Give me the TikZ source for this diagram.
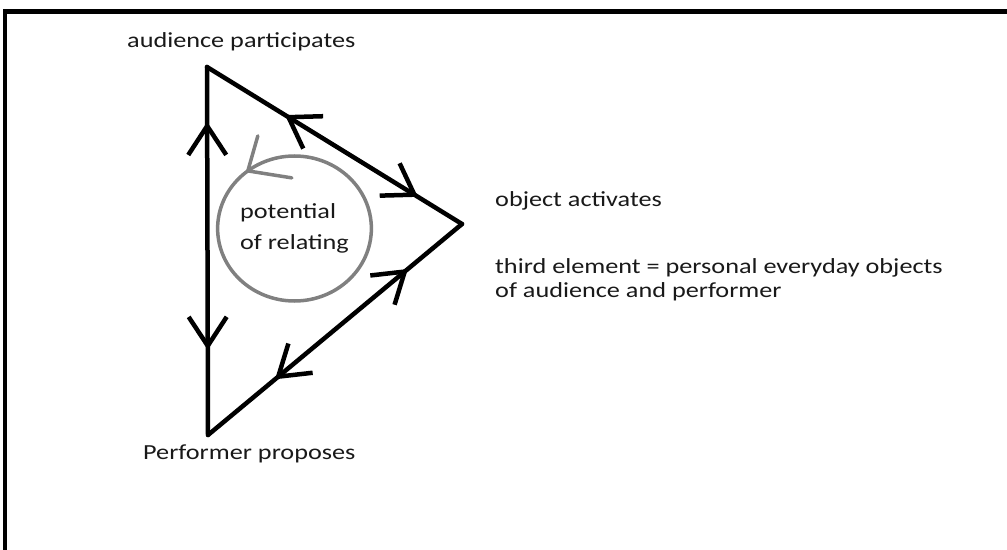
\documentclass[tikz,border=0pt]{standalone}
\usepackage{fontspec}
\setmainfont{Carlito}[FakeStretch=1.22]
\usetikzlibrary{arrows.meta,decorations.markings,shapes.geometric,calc}

\tikzset{
  handtip/.tip={Straight Barb[length=29bp,width=38bp]},
  edge/.style={line width=4.5bp, line cap=round, black, postaction={decorate}},
  label/.style={inner sep=0pt, anchor=base west, font=\fontsize{21.5bp}{24bp}\selectfont, text=black!90},
  relring/.style={ellipse, draw=gray, line width=3.5bp, minimum width=151bp, minimum height=145bp,
    inner sep=0pt, outer sep=0pt, align=left, font=\fontsize{21.5bp}{31bp}\selectfont, text=black!90},
  frame/.style={line width=4.5bp, black},
}

\begin{document}
\begin{tikzpicture}[x=1bp,y=-1bp]
  \useasboundingbox (0,0) rectangle (1007,550);

  % open frame: left side and top
  \draw[frame] (5,550) -- (5,11.5) -- (1007,11.5);

  % corners of the triangle
  \coordinate (aud) at (207,67);
  \coordinate (perf) at (208,435);
  \coordinate (obj) at (462,224);

  % two-way links along the triangle's sides
  \draw[edge, decoration={markings,
      mark=at position 0.149 with {\arrowreversed{handtip}},
      mark=at position 0.769 with {\arrow{handtip}}}] (aud) -- (perf);
  \draw[edge, decoration={markings,
      mark=at position 0.306 with {\arrowreversed{handtip}},
      mark=at position 0.827 with {\arrow{handtip}}}] (aud) -- (obj);
  \draw[edge, decoration={markings,
      mark=at position 0.264 with {\arrowreversed{handtip}},
      mark=at position 0.787 with {\arrow{handtip}}}] (perf) -- (obj);

  % circle of relating with its turning arrow
  \node[relring] (rel) at (294.5,228.5) {potential\\of relating};
  \coordinate (turn) at (rel.129);
  \draw[gray, line width=3.5bp, line cap=round, line join=round]
    ($(turn)+(10,-35)$) -- (turn) -- ($(turn)+(44,7)$);

  % labels
  \node[label] (laud) at (127,48) {audience participates};
  \node[label] (lobj) at (495,207) {object activates};
  \node[label] (lthird) at (495,274) {third element = personal everyday objects};
  \node[label] (lof) at (495,298) {of audience and performer};
  \node[label] (lperf) at (143,459) {Performer proposes};
\end{tikzpicture}
\end{document}
